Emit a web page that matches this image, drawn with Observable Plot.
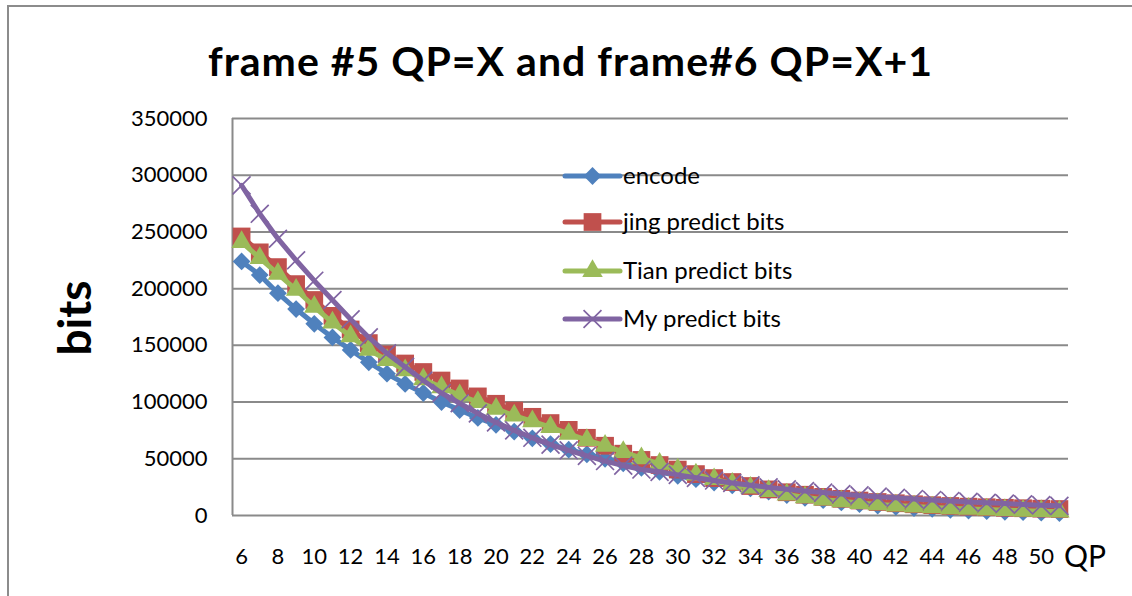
<!DOCTYPE html>
<html>
<head>
<meta charset="utf-8">
<script src="https://cdn.jsdelivr.net/npm/d3@7"></script>
<script src="https://cdn.jsdelivr.net/npm/@observablehq/plot@0.6"></script>
<style>
  html, body { margin: 0; padding: 0; background: #fff; overflow: hidden; }
  #wrap { position: relative; width: 1132px; height: 596px; overflow: hidden; font-family: Lato, sans-serif; }
  #border { position: absolute; left: 7px; top: 5px; width: 1300px; height: 800px; border: 2px solid #8c8c8c; box-sizing: border-box; }
  #chart, #overlay { position: absolute; left: 0; top: 0; }
</style>
</head>
<body>
<div id="wrap">
  <div id="border"></div>
  <div id="chart"></div>
  <svg id="overlay" width="1132" height="596"></svg>
</div>
<script>
// Quantisation parameter of frame #5 (categories)
const qp = [6, 7, 8, 9, 10, 11, 12, 13, 14, 15, 16, 17, 18, 19, 20, 21, 22, 23, 24, 25, 26, 27, 28,
            29, 30, 31, 32, 33, 34, 35, 36, 37, 38, 39, 40, 41, 42, 43, 44, 45, 46, 47, 48, 49, 50, 51];

// Bits per QP for each series
const encodeBits = [224000, 212000, 196000, 182000, 169000, 157000, 146000, 135000, 125000, 116000,
                    108000, 100000, 93000, 86000, 80000, 74000, 68000, 63000, 58000, 54000,
                    50000, 46000, 42000, 38500, 35000, 32000, 29000, 26500, 24000, 21000,
                    18000, 15500, 13500, 11500, 10000, 8700, 7600, 6600, 5800, 5000,
                    4400, 3800, 3300, 2900, 2500, 2200];
const jingBits = [246000, 232000, 219000, 204000, 190000, 176000, 164000, 152000, 142000, 134000,
                  126500, 119000, 112000, 105000, 98500, 92500, 87000, 81500, 75500, 68500,
                  61500, 54500, 49000, 44500, 40500, 36500, 33000, 29500, 26000, 23000,
                  20500, 18300, 16400, 14700, 13200, 11900, 10800, 9900, 9100, 8400,
                  7800, 7300, 6800, 6400, 6000, 5700];
const tianBits = [241000, 227000, 213000, 199000, 184000, 170000, 158000, 146000, 137000, 128000,
                  120000, 113000, 106000, 100000, 94000, 88000, 83000, 78000, 72000, 66500,
                  61500, 56000, 50500, 45500, 40500, 36000, 32000, 28000, 24500, 21500,
                  18500, 16000, 14000, 12500, 11000, 9800, 8800, 7900, 7100, 6400,
                  5800, 5200, 4700, 4200, 3800, 3400];
const myBits = [291000, 266000, 244000, 225000, 207000, 190000, 173000, 157000, 143000, 131000,
                119000, 108000, 99000, 90000, 82000, 75000, 68500, 62500, 57500, 52500,
                48000, 44000, 40500, 38500, 35800, 33200, 30800, 28600, 26600, 24800,
                23100, 21600, 20200, 18900, 17700, 16600, 15600, 14600, 13700, 12800,
                12000, 11200, 10500, 9800, 9100, 8500];

const seriesNames = ["encode", "jing predict bits", "Tian predict bits", "My predict bits"];
const seriesValues = [encodeBits, jingBits, tianBits, myBits];
const seriesColors = ["#4F81BD", "#C0504D", "#9BBB59", "#8064A2"];
const seriesSymbols = ["diamond2", "square", "triangle", "times"];
const seriesRadius = [8.0, 10.0, 7.6, 8.2];

const xTicks = [6, 8, 10, 12, 14, 16, 18, 20, 22, 24, 26, 28, 30, 32, 34, 36, 38, 40, 42, 44, 46, 48, 50];
const yTicks = [0, 50000, 100000, 150000, 200000, 250000, 300000, 350000];

const titleText = "frame #5 QP=X and frame#6 QP=X+1";
const yLabel = "bits";
const xLabel = "QP";

const xDomain = [qp[0] - 0.5, qp[qp.length - 1] + 0.5];
const gridColor = "#8a8a8a";

// Long table: one row per (series, QP)
const rows = seriesNames.map((name, s) => qp.map((q, i) => ({series: name, qp: q, bits: seriesValues[s][i]})));

const seriesMarks = seriesNames.flatMap((name, s) => {
  const isStroke = seriesSymbols[s] === "times";
  return [
    Plot.line(rows[s], {x: "qp", y: "bits", stroke: seriesColors[s], strokeWidth: 5, curve: "linear"}),
    Plot.dot(rows[s], {
      x: "qp", y: "bits", symbol: () => seriesSymbols[s], r: seriesRadius[s],
      fill: isStroke ? "none" : seriesColors[s],
      stroke: isStroke ? seriesColors[s] : "none",
      strokeWidth: isStroke ? 1.7 : 0
    })
  ];
});

const chart = Plot.plot({
  width: 1132,
  height: 596,
  marginTop: 118,
  marginBottom: 81,
  marginLeft: 232,
  marginRight: 64,
  x: {domain: xDomain, axis: null},
  y: {domain: [yTicks[0], yTicks[yTicks.length - 1]], axis: null},
  style: {fontFamily: "Lato, sans-serif", background: "transparent", overflow: "visible", color: "#000"},
  marks: [
    Plot.gridY(yTicks, {stroke: gridColor, strokeOpacity: 1, strokeWidth: 2}),
    Plot.ruleX([xDomain[0]], {y1: yTicks[0], y2: yTicks[yTicks.length - 1], stroke: gridColor, strokeWidth: 2}),
    Plot.axisY({ticks: yTicks, tickSize: 0, tickPadding: 25, fontSize: 22, tickFormat: d3.format("d"), label: null}),
    Plot.axisX({ticks: xTicks, tickSize: 0, tickPadding: 33, fontSize: 22, tickFormat: d3.format("d"), label: null}),
    ...seriesMarks
  ]
});
document.getElementById("chart").appendChild(chart);

// Title, axis titles and legend
const svg = d3.select("#overlay").style("font-family", "Lato, sans-serif");
svg.append("text").attr("x", 570).attr("y", 76).attr("text-anchor", "middle")
  .attr("font-size", 41).attr("font-weight", 700).attr("fill", "#000")
  .attr("textLength", 724).attr("lengthAdjust", "spacing").text(titleText);
svg.append("text").attr("transform", "translate(91,318) rotate(-90)").attr("text-anchor", "middle")
  .attr("font-size", 46).attr("font-weight", 700).attr("fill", "#000").text(yLabel);
svg.append("text").attr("x", 1064).attr("y", 567).attr("font-size", 30).attr("fill", "#000").text(xLabel);

const legendRows = [176, 222, 271, 319];
seriesNames.forEach((name, s) => {
  const g = svg.append("g").attr("transform", `translate(565,${legendRows[s]})`);
  g.append("line").attr("x1", 0).attr("x2", 55).attr("stroke", seriesColors[s])
    .attr("stroke-width", 5).attr("stroke-linecap", "round");
  const sym = {diamond2: d3.symbolDiamond2, square: d3.symbolSquare, triangle: d3.symbolTriangle, times: d3.symbolTimes}[seriesSymbols[s]];
  const isStroke = seriesSymbols[s] === "times";
  g.append("path").attr("transform", "translate(27.5,0)")
    .attr("d", d3.symbol(sym, Math.PI * seriesRadius[s] ** 2)())
    .attr("fill", isStroke ? "none" : seriesColors[s])
    .attr("stroke", isStroke ? seriesColors[s] : "none")
    .attr("stroke-width", isStroke ? 1.7 : 0);
  g.append("text").attr("x", 58).attr("y", 8).attr("font-size", 24).attr("fill", "#000").text(name);
});
</script>
</body>
</html>
